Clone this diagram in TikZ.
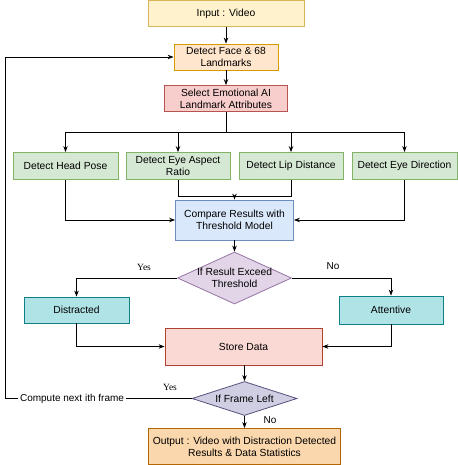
\documentclass[tikz,border=0pt]{standalone}
\usepackage{fontspec}
\setmainfont{Liberation Sans}
\newfontfamily\serifyes{Liberation Serif}
\usetikzlibrary{arrows.meta, shapes.geometric, positioning}
\definecolor{inputfill}{HTML}{FFF2CC}
\definecolor{inputline}{HTML}{D6B656}
\definecolor{facefill}{HTML}{FFE6CC}
\definecolor{faceline}{HTML}{D79B00}
\definecolor{selfill}{HTML}{F8CECC}
\definecolor{selline}{HTML}{B85450}
\definecolor{featfill}{HTML}{D5E8D4}
\definecolor{featline}{HTML}{82B366}
\definecolor{cmpfill}{HTML}{DAE8FC}
\definecolor{cmpline}{HTML}{6C8EBF}
\definecolor{decfill}{HTML}{E1D5E7}
\definecolor{decline}{HTML}{9673A6}
\definecolor{statefill}{HTML}{B0E3E6}
\definecolor{stateline}{HTML}{0E8088}
\definecolor{storefill}{HTML}{FAD9D5}
\definecolor{storeline}{HTML}{AE4132}
\definecolor{framefill}{HTML}{D0CEE2}
\definecolor{frameline}{HTML}{56517E}
\definecolor{outfill}{HTML}{FAD7AC}
\definecolor{outline}{HTML}{B46504}

\begin{document}
\begin{tikzpicture}[
    x=1pt, y=-1pt,
    font=\fontsize{10.3}{12}\selectfont,
    box/.style={draw, line width=0.8pt, align=center, inner sep=1pt, minimum height=26pt},
    feature/.style={box, draw=featline, fill=featfill, minimum width=105pt, minimum height=27pt},
    state/.style={box, draw=stateline, fill=statefill, minimum width=105pt},
    decision/.style={diamond, draw, line width=0.8pt, inner sep=0pt},
    link/.style={-{Stealth[length=6pt, width=4.5pt]}, line width=0.9pt},
    tag/.style={font=\fontsize{10}{12}\selectfont}
]
    \useasboundingbox (0,0) rectangle (457,465);

    % main column
    \node[box, draw=inputline, fill=inputfill, minimum width=156pt] (in) at (226,13.5) {Input : Video};
    \node[box, draw=faceline, fill=facefill, minimum width=104pt] (face) at (226,57) {Detect Face \& 68\\Landmarks};
    \node[box, draw=selline, fill=selfill, minimum width=123pt] (sel) at (226,98.5) {Select Emotional AI\\Landmark Attributes};

    % features
    \node[feature] (pose) at (65.5,166) {Detect Head Pose};
    \node[feature, minimum width=104pt] (eye) at (178,166) {Detect Eye Aspect\\Ratio};
    \node[feature, minimum width=104pt] (lip) at (291,166) {Detect Lip Distance};
    \node[feature] (dir) at (404.5,166) {Detect Eye Direction};

    \node[box, draw=cmpline, fill=cmpfill, minimum width=118pt, minimum height=40pt] (cmp) at (234.5,220) {Compare Results with\\Threshold Model};

    \node[decision, draw=decline, fill=decfill, minimum width=114pt, minimum height=52pt] (d1) at (234.5,278) {};
    \node[align=center] (d1txt) at (d1) {If Result Exceed\\Threshold};
    \node[tag, font=\serifyes\fontsize{9.5}{11}\selectfont] (yes1) at (144,267) {Yes};
    \node[tag] (no1) at (333,266) {No};

    \node[state] (dist) at (76.5,310) {Distracted};
    \node[state, minimum width=104pt, minimum height=28pt] (att) at (391,310) {Attentive};

    \node[box, draw=storeline, fill=storefill, minimum width=157pt, minimum height=37pt] (store) at (243.5,346.5) {Store Data};

    \node[decision, draw=frameline, fill=framefill, minimum width=105pt, minimum height=34pt] (d2) at (244.5,398.5) {};
    \node (d2txt) at (d2) {If Frame Left};
    \node[tag, font=\serifyes\fontsize{9.5}{11}\selectfont] (yes2) at (170,387) {Yes};
    \node[tag] (no2) at (270,420) {No};
    \node[tag, inner sep=2pt] (next) at (72,398.5) {Compute next ith frame};

    \node[box, draw=outline, fill=outfill, minimum width=192pt, minimum height=36pt] (out) at (244.5,446.5) {Output : Video with Distraction Detected\\Results \& Data Statistics};

    \coordinate (split) at (226,132);
    \coordinate (merge) at (234.5,196);
    \coordinate (loop) at (5,398.5);

    % connectors
    \draw[link] (in) -- (face);
    \draw[link] (face) -- (sel);
    \draw[line width=0.9pt] (sel) -- (split);
    \foreach \f in {pose, eye, lip, dir}
        \draw[link] (split) -| (\f.north);
    \draw[line width=0.9pt] (eye.south) |- (merge);
    \draw[line width=0.9pt] (lip.south) |- (merge);
    \draw[link] (merge) -- (cmp.north);
    \draw[link] (pose.south) |- (cmp.west);
    \draw[link] (dir.south) |- (cmp.east);
    \draw[link] (cmp) -- (d1);
    \draw[link] (d1.west) -| (dist.north);
    \draw[link] (d1.east) -| (att.north);
    \draw[link] (dist.south) |- (store.west);
    \draw[link] (att.south) |- (store.east);
    \draw[link] (d2.north |- store.south) -- (d2.north);
    \draw[link] (d2) -- (out);
    \draw[line width=0.9pt] (d2.west) -- (next.east);
    \draw[link] (next.west) -- (loop) |- (face.west);
\end{tikzpicture}
\end{document}
